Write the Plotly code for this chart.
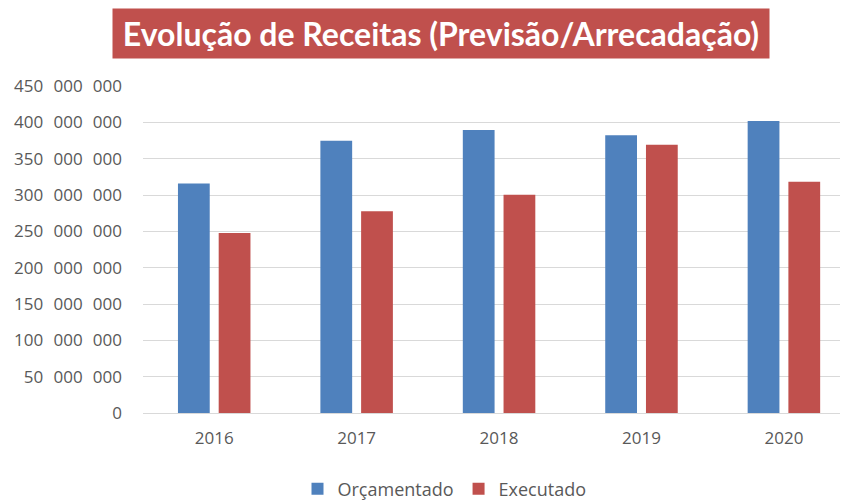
import plotly.graph_objects as go

years = ["2016", "2017", "2018", "2019", "2020"]
orcamentado = [315.7e6, 374.5e6, 389.4e6, 382.1e6, 401.8e6]
executado = [247.7e6, 277.6e6, 300.5e6, 369.3e6, 318.4e6]
tick_vals = [0, 50e6, 100e6, 150e6, 200e6, 250e6, 300e6, 350e6, 400e6, 450e6]
SP = "\u2002\u200a"
tick_text = ["0", "50 000 000", "100 000 000", "150 000 000", "200 000 000",
             "250 000 000", "300 000 000", "350 000 000", "400 000 000", "450 000 000"]
tick_text = [t.replace(" ", SP) for t in tick_text]
title_text = "Evolução de Receitas (Previsão/Arrecadação)"

BLUE = "#4F81BD"
RED = "#C0504D"
GRAY = "#595959"
FONT = "Open Sans"

fig = go.Figure()
fig.add_trace(go.Bar(name="Orçamentado", x=years, y=orcamentado,
                     marker=dict(color=BLUE, line=dict(width=0))))
fig.add_trace(go.Bar(name="Executado", x=years, y=executado,
                     marker=dict(color=RED, line=dict(width=0))))

# page is offset by the 8px body margin
OFF = 8
W, H = 848 - OFF, 500 - OFF
L, T, R = 143 - OFF, 86 - OFF, 0
B = H - (413 - OFF)
PH = H - T - B
PW = W - L - R

fig.update_layout(
    width=W, height=H,
    paper_bgcolor="white", plot_bgcolor="white",
    margin=dict(l=L, r=R, t=T, b=B, autoexpand=False),
    barmode="group", bargap=0.428, bargroupgap=0.22,
    font=dict(family=FONT, color=GRAY, size=17),
    showlegend=True,
    legend=dict(orientation="h", x=(444.5 - OFF - L) / PW, xanchor="center",
                y=-(489 - 413) / PH, yanchor="middle",
                yref="paper", font=dict(family=FONT, size=18, color=GRAY),
                itemwidth=30, traceorder="normal"),
    annotations=[dict(
        text="<b>" + title_text + "</b>", xref="paper", yref="paper",
        x=(440.5 - OFF - L) / PW, y=1 + (86 - 34) / PH, xanchor="center", yanchor="middle",
        showarrow=False, bgcolor=RED, font=dict(family="Lato", size=32, color="white"),
        borderpad=6, width=644, height=37,
    )],
)
fig.update_xaxes(type="category", range=[-0.5, 4.45], showgrid=False,
                 showline=True, linecolor="#D9D9D9", linewidth=1,
                 ticks="", ticklabelstandoff=10,
                 tickfont=dict(family=FONT, size=17, color=GRAY))
fig.update_yaxes(range=[0, 450e6], tickvals=tick_vals, ticktext=tick_text,
                 showgrid=True, gridcolor="#D9D9D9", gridwidth=1,
                 zeroline=False, showline=False, ticks="", ticklabelstandoff=20,
                 tickfont=dict(family=FONT, size=17, color=GRAY))

fig.write_html("out.html")
